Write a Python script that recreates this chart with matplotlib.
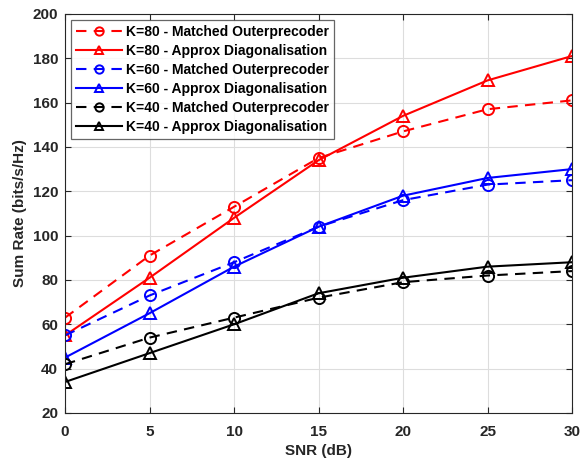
import matplotlib
matplotlib.use("Agg")
import matplotlib.pyplot as plt

plt.rcParams['font.family'] = ['Liberation Sans', 'DejaVu Sans']
plt.rcParams['font.weight'] = 'bold'

snr = [0, 5, 10, 15, 20, 25, 30]
k80_mo = [63, 91, 113, 135, 147, 157, 161]
k80_ad = [55, 81, 108, 134, 154, 170, 181]
k60_mo = [55, 73, 88, 104, 116, 123, 125]
k60_ad = [45, 65, 86, 104, 118, 126, 130]
k40_mo = [42, 54, 63, 72, 79, 82, 84]
k40_ad = [34, 47, 60, 74, 81, 86, 88]

labels = ['K=80 - Matched Outerprecoder', 'K=80 - Approx Diagonalisation',
          'K=60 - Matched Outerprecoder', 'K=60 - Approx Diagonalisation',
          'K=40 - Matched Outerprecoder', 'K=40 - Approx Diagonalisation']

fig = plt.figure(figsize=(5.81, 4.63), dpi=100)
ax = fig.add_axes([0.112, 0.108, 0.8725, 0.862])

series = [(k80_mo, 'red', '--', 'o'), (k80_ad, 'red', '-', '^'),
          (k60_mo, 'blue', '--', 'o'), (k60_ad, 'blue', '-', '^'),
          (k40_mo, 'black', '--', 'o'), (k40_ad, 'black', '-', '^')]
for (vals, c, ls, m), lab in zip(series, labels):
    ax.plot(snr, vals, color=c, linestyle=ls, marker=m, markersize=8,
            markerfacecolor='none', markeredgewidth=1.4, linewidth=1.5,
            dashes=(5, 3.5) if ls == '--' else (None, None), label=lab)

ax.set_xlim(0, 30)
ax.set_ylim(20, 200)
ax.set_xticks(range(0, 31, 5))
ax.set_yticks(range(20, 201, 20))
ax.grid(True, color='#dddddd', linewidth=0.8)
ax.set_axisbelow(True)
ax.tick_params(direction='in', length=4, labelsize=11, top=True, right=True,
               colors='#262626', width=0.8)
ax.tick_params(axis='x', pad=8.5)
ax.tick_params(axis='y', pad=5)
for lbl in ax.get_xticklabels() + ax.get_yticklabels():
    lbl.set_fontweight('bold')
for s in ax.spines.values():
    s.set_color('#262626')
    s.set_linewidth(0.8)
ax.set_xlabel('SNR (dB)', fontsize=11, fontweight='bold', color='#262626', labelpad=4)
ax.set_ylabel('Sum Rate (bits/s/Hz)', fontsize=11, fontweight='bold', color='#262626', labelpad=4)

leg = ax.legend(loc='upper left', fontsize=10, frameon=True, fancybox=False,
                edgecolor='#404040', borderpad=0.35, labelspacing=0.36,
                handlelength=3.3, handletextpad=0.3, borderaxespad=0.45,
                markerscale=0.75)
leg.get_frame().set_linewidth(0.9)
for t in leg.get_texts():
    t.set_fontweight('bold')

fig.savefig('out.png', dpi=100)
